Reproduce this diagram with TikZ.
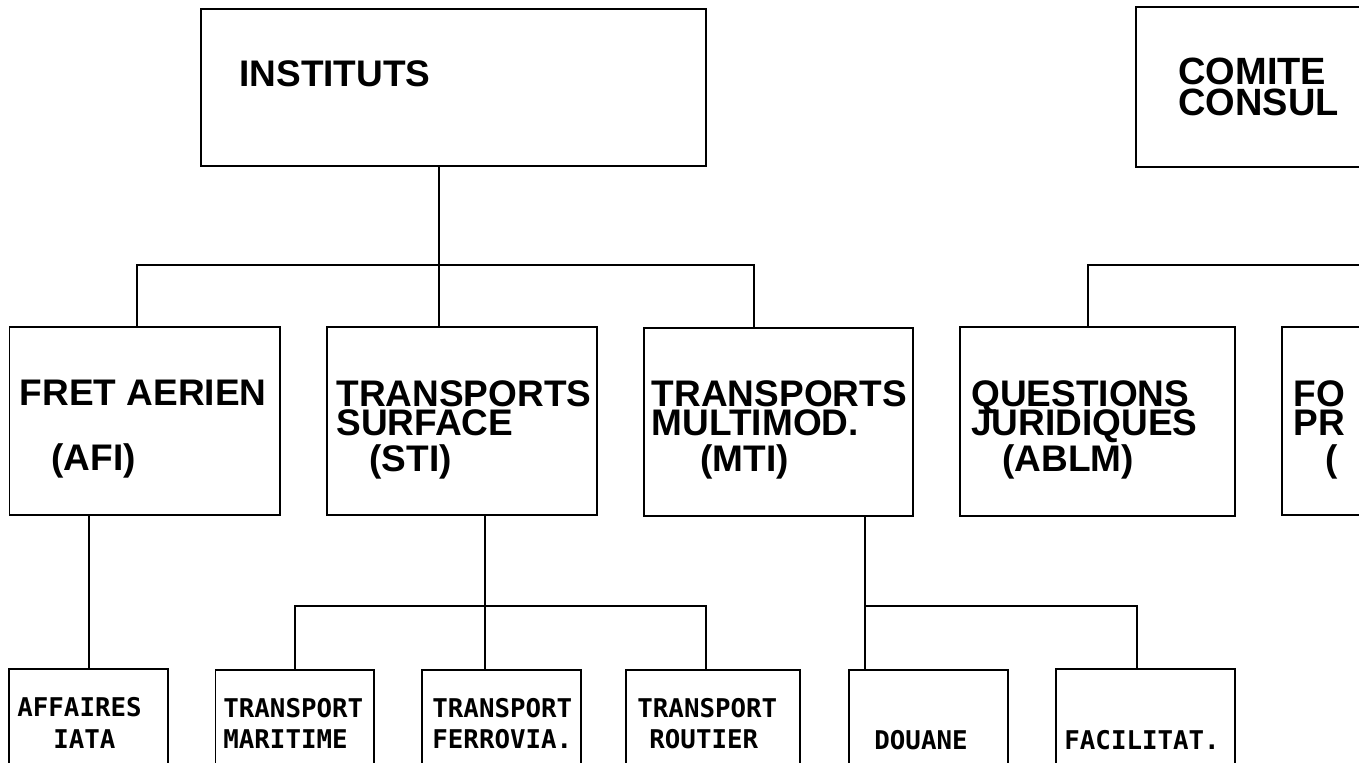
\documentclass[tikz,border=0pt]{standalone}
\usepackage{fontspec}
\setmainfont{Liberation Sans}
\newfontfamily\termfont{DejaVu Sans Mono}
\usetikzlibrary{fit}

% fixed line pitch, even where descenders would push lines apart
\newcommand\tightlines{\setlength{\lineskiplimit}{-100pt}}

\tikzset{
  box/.style={draw, line width=0.95pt, inner sep=0pt, fill=none},
  link/.style={draw, line width=0.75pt},
  % multi-line labels are placed by the baseline of their last line
  big/.style={inner sep=0pt, anchor=base west, align=left,
    font=\tightlines\fontsize{18.5}{14.5}\selectfont\bfseries},
  small/.style={inner sep=0pt, anchor=base west,
    font=\termfont\fontsize{12.9}{12.9}\selectfont\bfseries},
}

\begin{document}
\begin{tikzpicture}[x=0.5pt, y=-0.5pt]
\useasboundingbox (0,0) rectangle (1359,763);
\clip (0,0) rectangle (1359,763);

% top level
\node[box, fit={(201,9) (706,166)}] (inst) {};
\node[box, fit={(1136,7) (1420,167)}] (comite) {};
\node[big] (tInst) at (239,87) {INSTITUTS};
\node[big, font=\tightlines\fontsize{19}{14.5}\selectfont\bfseries] (tCom) at (1178,116) {COMITE\\[1pt]CONSUL};

% institutes
\node[box, fit={(9.5,327) (280,515)}] (afi) {};
\node[box, fit={(327,327) (597,515)}] (sti) {};
\node[box, fit={(644,328) (913,516)}] (mti) {};
\node[box, fit={(960,327) (1235,516)}] (ablm) {};
\node[box, fit={(1282,327) (1420,515)}] (fo) {};

\node[big] (tAfi) at (19.5,471) {FRET AERIEN\\[18pt]\hspace*{15.75pt}(AFI)};
\node[big] (tSti) at (336,472) {TRANSPORTS\\SURFACE\\[3.5pt]\hspace*{16.5pt}(STI)};
\node[big] (tMti) at (651.5,472) {TRANSPORTS\\MULTIMOD.\\[3.5pt]\hspace*{24.25pt}(MTI)};
\node[big] (tAbl) at (971,472) {QUESTIONS\\JURIDIQUES\\[3.5pt]\hspace*{15.5pt}(ABLM)};
\node[big] (tFo) at (1293,472) {FO\\PR\\[3.5pt]\hspace*{16pt}(};

% working groups
\node[box, fit={(9,669) (168,800)}] (aff) {};
\node[box, fit={(215.5,670) (374,800)}] (mar) {};
\node[box, fit={(422,670) (581,800)}] (fer) {};
\node[box, fit={(626,670) (800,800)}] (rou) {};
\node[box, fit={(849,670) (1008,800)}] (dou) {};
\node[box, fit={(1056,669) (1235,800)}] (fac) {};

\node[small] (tAff1) at (17,716) {AFFAIRES};
\node[small] (tAff2) at (53,748) {IATA};
\node[small] (tMar1) at (223,717) {TRANSPORT};
\node[small] (tMar2) at (223,748) {MARITIME};
\node[small] (tFer1) at (432,717) {TRANSPORT};
\node[small] (tFer2) at (432,748) {FERROVIA.};
\node[small] (tRou1) at (637,717) {TRANSPORT};
\node[small] (tRou2) at (649,748) {ROUTIER};
\node[small] (tDou) at (874,749) {DOUANE};
\node[small] (tFac) at (1064,749) {FACILITAT.};

% junction points of the connectors
\coordinate (jTop) at (439,265);
\coordinate (jAfi) at (137,265);
\coordinate (jMti) at (754,265);
\coordinate (jAbl) at (1088,265);
\coordinate (jRight) at (1420,265);
\coordinate (jSti) at (485,606);
\coordinate (jMar) at (295,606);
\coordinate (jRou) at (706,606);
\coordinate (jDou) at (865,606);
\coordinate (jFac) at (1137,606);
\coordinate (jAff) at (89,600);

% connectors
\draw[link] (inst.south -| jTop) -- (sti.north -| jTop);
\draw[link] (afi.north -| jAfi) -- (jAfi) -- (jMti) -- (mti.north -| jMti);
\draw[link] (ablm.north -| jAbl) -- (jAbl) -- (jRight);
\draw[link] (afi.south -| jAff) -- (aff.north -| jAff);
\draw[link] (sti.south -| jSti) -- (fer.north -| jSti);
\draw[link] (mar.north -| jMar) -- (jMar) -- (jRou) -- (rou.north -| jRou);
\draw[link] (mti.south -| jDou) -- (dou.north -| jDou);
\draw[link] (jDou) -- (jFac) -- (fac.north -| jFac);
\end{tikzpicture}
\end{document}
